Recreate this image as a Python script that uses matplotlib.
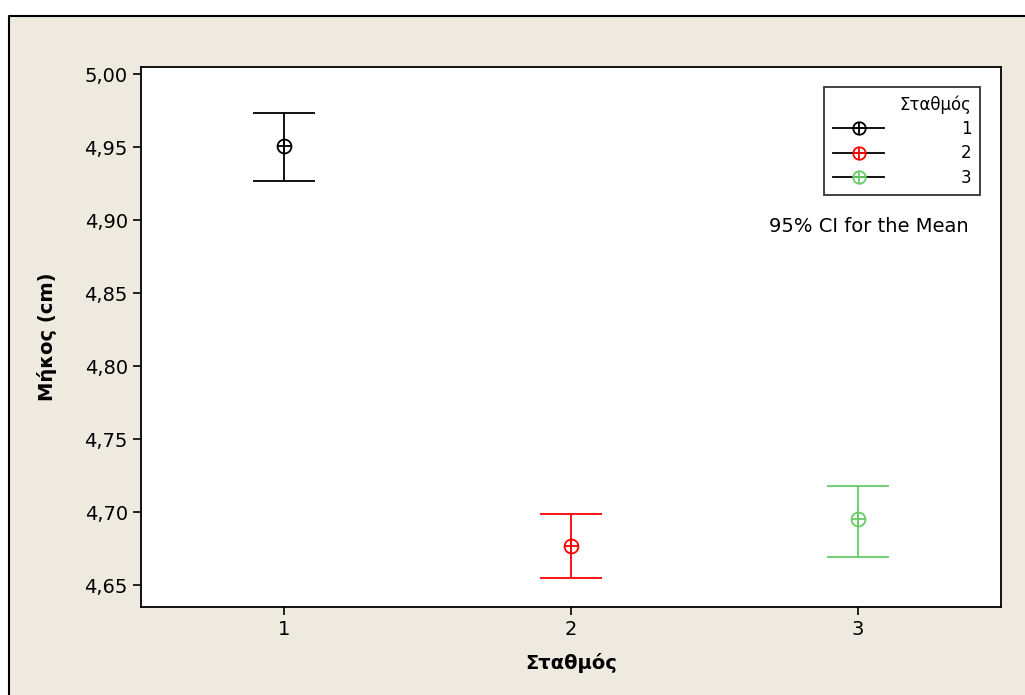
import matplotlib
matplotlib.use('agg')
import matplotlib.pyplot as plt
from matplotlib.patches import Rectangle
from matplotlib.lines import Line2D
from matplotlib.ticker import FuncFormatter

# Interval plot: mean length per station with 95% CI
stations = [1, 2, 3]
means = [4.9507, 4.6770, 4.6952]
lower = [4.9267, 4.6548, 4.6692]
upper = [4.9733, 4.6986, 4.7178]
colors = ['black', '#FF0000', '#66CC66']
yticks = [4.65, 4.70, 4.75, 4.80, 4.85, 4.90, 4.95, 5.00]

plt.rcParams['font.family'] = ['DejaVu Sans']

W, H = 1025, 695
fig = plt.figure(figsize=(W / 100, H / 100), dpi=100)
fig.patch.set_facecolor('white')

# beige panel behind the plot
x0, y0 = 9 / W, 1 - 16 / H
fig.patches.append(Rectangle((x0, 0), 1.1, y0, transform=fig.transFigure,
                             facecolor='#EEEAE0', edgecolor='none', zorder=-2))
fig.lines.append(Line2D([x0, x0, 1], [0, y0, y0], transform=fig.transFigure,
                        color='black', lw=1.5, zorder=-1))

ax = fig.add_axes([141 / W, 1 - 607 / H, (1001 - 141) / W, (607 - 67) / H])
ax.set_facecolor('white')

for s, m, lo, hi, c in zip(stations, means, lower, upper, colors):
    ax.errorbar(s, m, yerr=[[m - lo], [hi - m]], fmt='none', ecolor=c,
                elinewidth=1.3, capsize=22, capthick=1.3)
    ax.plot(s, m, 'o', mfc='none', mec=c, ms=10, mew=1.3)
    ax.plot(s, m, '+', color=c, ms=10, mew=1.3)

ax.set_xlim(0.5, 3.5)
ax.set_ylim(4.635, 5.0048)
ax.set_xticks(stations)
ax.set_yticks(yticks)
ax.yaxis.set_major_formatter(FuncFormatter(lambda v, p: f'{v:.2f}'.replace('.', ',')))
ax.tick_params(labelsize=14, length=6, width=1.2, direction='out')
for sp in ax.spines.values():
    sp.set_linewidth(1.3)

ax.set_xlabel('Σταθμός', fontsize=14, fontweight='bold', labelpad=10)
ax.set_ylabel('Μήκος (cm)', fontsize=14, fontweight='bold', labelpad=20)

# legend entries: black line through a circled-cross marker
handles = []
for c in colors:
    ring = Line2D([], [], color='black', lw=1.3, marker='o', mfc='none', mec=c,
                  ms=9, mew=1.3)
    cross = Line2D([], [], ls='none', marker='+', color=c, ms=9, mew=1.3)
    handles.append((ring, cross))
leg = ax.legend(handles, ['1', '2', '3'], title='Σταθμός', loc='upper right',
                bbox_to_anchor=(0.9756, 0.963), fontsize=12, title_fontsize=12,
                frameon=True, fancybox=False, edgecolor='black',
                handlelength=3.1, borderpad=0.5, labelspacing=0.38,
                handletextpad=4.6, borderaxespad=0)
leg.get_frame().set_linewidth(1.3)
leg._legend_box.align = 'right'

ax.text(0.962, 0.705, '95% CI for the Mean', transform=ax.transAxes,
        ha='right', va='center', fontsize=14)

fig.savefig('out.png', dpi=100)
